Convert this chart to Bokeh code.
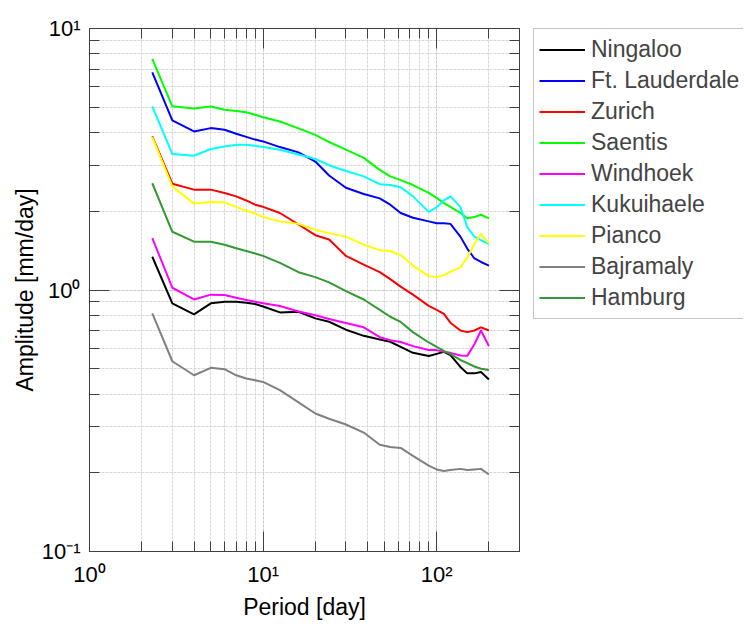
from bokeh.plotting import figure
from bokeh.layouts import row
from bokeh.models import (LogAxis, FixedTicker, Legend, LegendItem,
                          CustomJSTickFormatter, Range1d)
from bokeh.embed import file_html
from bokeh.resources import INLINE

# ---- data ----
period = [2.3, 3, 4, 5, 6, 7, 8, 9, 10, 12.5, 16, 20, 24, 30, 38, 47, 54, 62,
          73, 90, 100, 110, 120, 137, 150, 165, 180, 200]

ningaloo = [1.34, 0.889, 0.807, 0.889, 0.902, 0.902, 0.894, 0.884, 0.865, 0.821,
            0.826, 0.779, 0.756, 0.705, 0.668, 0.647, 0.634, 0.606, 0.575, 0.559,
            0.570, 0.580, 0.564, 0.508, 0.480, 0.480, 0.486, 0.455]
ft_lauderdale = [6.80, 4.45, 4.04, 4.16, 4.10, 3.96, 3.85, 3.76, 3.70, 3.52,
                 3.36, 3.10, 2.74, 2.46, 2.33, 2.24, 2.12, 1.97, 1.89, 1.83,
                 1.80, 1.80, 1.79, 1.60, 1.44, 1.32, 1.28, 1.24]
zurich = [3.87, 2.55, 2.42, 2.42, 2.35, 2.28, 2.20, 2.12, 2.08, 1.97,
          1.78, 1.62, 1.56, 1.35, 1.25, 1.17, 1.10, 1.03, 0.96, 0.87,
          0.84, 0.81, 0.75, 0.70, 0.69, 0.70, 0.72, 0.70]
saentis = [7.65, 5.04, 4.94, 5.03, 4.89, 4.84, 4.78, 4.68, 4.58, 4.41,
           4.15, 3.92, 3.68, 3.44, 3.20, 2.88, 2.72, 2.63, 2.52, 2.35,
           2.25, 2.15, 2.08, 1.97, 1.88, 1.90, 1.94, 1.88]
windhoek = [1.58, 1.02, 0.92, 0.96, 0.957, 0.934, 0.916, 0.902, 0.89, 0.868,
            0.828, 0.80, 0.775, 0.748, 0.72, 0.66, 0.643, 0.633, 0.61, 0.59,
            0.589, 0.58, 0.575, 0.562, 0.56, 0.62, 0.70, 0.61]
kukuihaele = [5.04, 3.31, 3.26, 3.46, 3.54, 3.59, 3.59, 3.56, 3.52, 3.44,
              3.30, 3.17, 3.00, 2.85, 2.72, 2.54, 2.52, 2.47, 2.28, 1.99,
              2.07, 2.20, 2.28, 2.08, 1.74, 1.60, 1.55, 1.50]
pianco = [3.84, 2.49, 2.14, 2.17, 2.16, 2.08, 2.01, 1.96, 1.90, 1.83,
          1.79, 1.70, 1.65, 1.60, 1.49, 1.42, 1.41, 1.36, 1.24, 1.13,
          1.12, 1.14, 1.175, 1.22, 1.33, 1.50, 1.64, 1.51]
bajramaly = [0.814, 0.534, 0.472, 0.504, 0.498, 0.472, 0.459, 0.452, 0.445, 0.414,
             0.372, 0.337, 0.322, 0.306, 0.285, 0.256, 0.251, 0.249, 0.232, 0.213,
             0.206, 0.203, 0.205, 0.207, 0.205, 0.206, 0.207, 0.197]
hamburg = [2.56, 1.67, 1.53, 1.53, 1.49, 1.445, 1.41, 1.38, 1.35, 1.27,
           1.17, 1.12, 1.07, 0.99, 0.92, 0.84, 0.79, 0.755, 0.69, 0.63,
           0.606, 0.585, 0.569, 0.54, 0.525, 0.51, 0.50, 0.494]

names = ["Ningaloo", "Ft. Lauderdale", "Zurich", "Saentis", "Windhoek",
         "Kukuihaele", "Pianco", "Bajramaly", "Hamburg"]
series = [ningaloo, ft_lauderdale, zurich, saentis, windhoek,
          kukuihaele, pianco, bajramaly, hamburg]
colors = ["#000000", "#0000ff", "#ff0000", "#00ff00", "#ff00ff",
          "#00ffff", "#ffff00", "#808080", "#339933"]

x_major = [1, 10, 100]
x_minor = [2, 3, 4, 5, 6, 7, 8, 9, 20, 30, 40, 50, 60, 70, 80, 90, 200, 300]
y_major = [0.1, 1, 10]
y_minor = [0.2, 0.3, 0.4, 0.5, 0.6, 0.7, 0.8, 0.9, 2, 3, 4, 5, 6, 7, 8, 9]

FONT = "Liberation Sans"
AX = "#404040"

W1, W2, H = 533, 210, 622
FL, FR, FT, FB = 89, 519, 28, 551   # frame edges inside the main figure
p = figure(width=W1, height=H, x_axis_type="log", y_axis_type="log",
           x_range=Range1d(1, 300), y_range=Range1d(0.1, 10),
           output_backend="svg", toolbar_location=None,
           min_border_left=FL, min_border_right=W1 - FR,
           min_border_top=FT, min_border_bottom=H - FB)
p.outline_line_color = AX

xt = FixedTicker(ticks=x_major, minor_ticks=x_minor)
yt = FixedTicker(ticks=y_major, minor_ticks=y_minor)

fmt = CustomJSTickFormatter(code="""
const e = Math.round(Math.log10(tick));
const sup = {"-":"\u207b","0":"\u2070","1":"\u00b9","2":"\u00b2","3":"\u00b3",
             "4":"\u2074","5":"\u2075","6":"\u2076","7":"\u2077","8":"\u2078","9":"\u2079"};
return "10" + String(e).split("").map(c => sup[c]).join("");
""")

def style_axis(ax, ticker, labels=True):
    ax.ticker = ticker
    ax.axis_line_color = AX
    ax.axis_line_width = 1
    ax.major_tick_line_color = AX
    ax.minor_tick_line_color = AX
    ax.major_tick_in = 20
    ax.major_tick_out = 0
    ax.minor_tick_in = 10
    ax.minor_tick_out = 0
    if labels:
        ax.formatter = fmt
        ax.major_label_text_font = FONT
        ax.major_label_text_font_size = "22px"
        ax.major_label_text_color = "#000000"
        ax.axis_label_text_font = FONT
        ax.axis_label_text_font_size = "23px"
        ax.axis_label_text_font_style = "normal"
        ax.axis_label_text_color = "#000000"
    else:
        ax.major_label_text_font_size = "1px"
        ax.major_label_text_alpha = 0
        ax.major_label_standoff = 0

style_axis(p.xaxis[0], xt)
style_axis(p.yaxis[0], yt)
p.xaxis[0].axis_label = "Period [day]"
p.yaxis[0].axis_label = "Amplitude [mm/day]"
p.xaxis[0].major_label_standoff = 10
p.xaxis[0].axis_label_standoff = 4
p.yaxis[0].major_label_standoff = 9
p.yaxis[0].axis_label_standoff = 1

top = LogAxis()
style_axis(top, xt, labels=False)
p.add_layout(top, "above")
right = LogAxis()
style_axis(right, yt, labels=False)
p.add_layout(right, "right")

for g in (p.xgrid[0], p.ygrid[0]):
    g.grid_line_color = "#c8c8c8"
    g.grid_line_dash = "3 1"
    g.minor_grid_line_color = "#d8d8d8"
    g.minor_grid_line_dash = "3 1"
p.xgrid[0].ticker = xt
p.ygrid[0].ticker = yt

# legend lives in its own narrow figure to the right of the axes
q = figure(width=W2, height=H, x_range=Range1d(0, 1), y_range=Range1d(0, 1),
           output_backend="svg", toolbar_location=None,
           x_axis_location=None, y_axis_location=None,
           min_border=0, outline_line_color=None)
q.xgrid.visible = False
q.ygrid.visible = False

items = []
for name, vals, c in zip(names, series, colors):
    p.line(period, vals, line_color=c, line_width=2, line_join="round")
    rq = q.line(period, vals, line_color=c, line_width=2, visible=False)
    items.append(LegendItem(label=name, renderers=[rq]))

ROW = 31
legend = Legend(items=items, location="top_left",
                label_text_font=FONT, label_text_font_size="23px",
                glyph_width=46, glyph_height=ROW, label_height=ROW,
                label_standoff=6, spacing=0, padding=5, margin=0,
                inactive_fill_alpha=0,
                border_line_color="#8c8c8c", border_line_width=1,
                background_fill_color="#ffffff", background_fill_alpha=1)
q.add_layout(legend)

layout = row(p, q, spacing=0)
open("out.html", "w").write(file_html(layout, INLINE))
